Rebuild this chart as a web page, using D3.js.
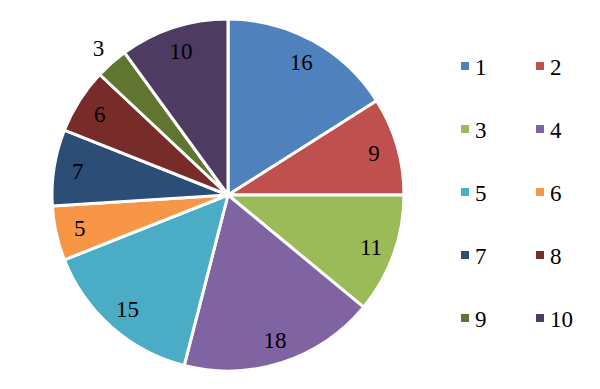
<!DOCTYPE html>
<html><head><meta charset="utf-8">
<script src="https://cdn.jsdelivr.net/npm/d3@7"></script>
<style>body{margin:0;background:#fff}svg{display:block}
text{font-family:"Liberation Serif","Times New Roman",Times,"DejaVu Serif",serif;}</style>
</head><body>
<svg id="c" width="600" height="389"></svg>
<script>
const categories = ["1","2","3","4","5","6","7","8","9","10"];
const values = [16, 9, 11, 18, 15, 5, 7, 6, 3, 10];
const colors = ["#4F81BD","#C0504D","#9BBB59","#8064A2","#4BACC6","#F79646","#2C4D75","#772C2A","#5F7530","#4D3B62"];

const svg = d3.select("#c");
const cx = 228, cy = 195, r = 176;
const data = categories.map((c,i)=>({cat:c, value:values[i], color:colors[i]}));
const pie = d3.pie().value(d=>d.value).sort(null);
const arcs = pie(data);
const arc = d3.arc().innerRadius(0).outerRadius(r);
const g = svg.append("g").attr("transform",`translate(${cx},${cy})`);
g.selectAll("path").data(arcs).join("path")
  .attr("d",arc).attr("fill",d=>d.data.color)
  .attr("stroke","#fff").attr("stroke-width",3).attr("stroke-linejoin","round");

const labelArc = d3.arc().innerRadius(152).outerRadius(152);
const outArc = d3.arc().innerRadius(196).outerRadius(196);
g.selectAll("text").data(arcs).join("text")
  .attr("transform",d=>`translate(${(d.data.value<4?outArc:labelArc).centroid(d)})`)
  .attr("text-anchor","middle").attr("dy","0.35em")
  .attr("font-size",23).attr("fill","#000")
  .text(d=>d.data.value);

const lg = svg.append("g");
const colX = [461, 536], rowY = [75, 138, 201, 264, 327];
data.forEach((d,i)=>{
  const x = colX[i%2], y = rowY[Math.floor(i/2)];
  lg.append("rect").attr("x",x).attr("y",y-13).attr("width",8).attr("height",8).attr("fill",d.color);
  lg.append("text").attr("x",x+14).attr("y",y)
    .attr("font-size",23).attr("fill","#000").text(d.cat);
});
</script>
</body></html>
